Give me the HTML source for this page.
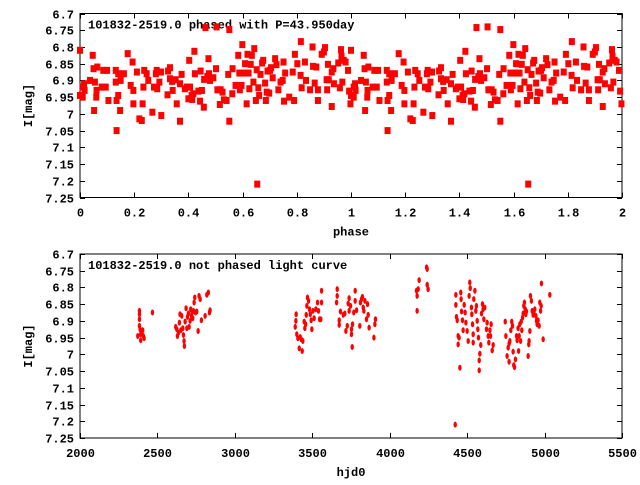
<!DOCTYPE html>
<html><head><meta charset="utf-8"><style>
html,body{margin:0;padding:0;background:#fff;}
svg text{font-family:"Liberation Mono",monospace;font-weight:bold;font-size:12px;fill:#000;}
</style></head><body>
<svg id="chart" width="640" height="480" viewBox="0 0 640 480" xmlns="http://www.w3.org/2000/svg">
<g id="top"></g>
<g id="bot"></g>
</svg>
<script>
// phased light curve data (phase in [0,1), plotted at phase and phase+1)
const phases=[0,0,0.01,0.015,0.01,0.017,0.037,0.047,0.05,0.052,0.055,0.06,0.061,0.064,0.08,0.086,0.095,0.1,0.105,0.132,0.132,0.135,0.135,0.141,0.141,0.148,0.15,0.162,0.176,0.187,0.194,0.197,0.197,0.21,0.219,0.228,0.231,0.234,0.237,0.246,0.252,0.267,0.273,0.28,0.283,0.285,0.293,0.299,0.3,0.323,0.325,0.332,0.332,0.34,0.342,0.353,0.357,0.369,0.369,0.375,0.387,0.394,0.4,0.403,0.406,0.412,0.414,0.418,0.422,0.424,0.437,0.443,0.445,0.45,0.457,0.458,0.463,0.47,0.474,0.476,0.48,0.492,0.502,0.504,0.507,0.516,0.519,0.526,0.531,0.541,0.547,0.551,0.551,0.562,0.563,0.574,0.584,0.588,0.59,0.596,0.599,0.605,0.609,0.615,0.618,0.622,0.625,0.63,0.634,0.64,0.643,0.649,0.652,0.654,0.658,0.661,0.666,0.672,0.676,0.683,0.686,0.689,0.692,0.698,0.701,0.705,0.711,0.72,0.725,0.732,0.74,0.748,0.751,0.753,0.757,0.772,0.785,0.79,0.793,0.802,0.814,0.815,0.818,0.834,0.83,0.849,0.858,0.86,0.866,0.872,0.878,0.878,0.892,0.9,0.904,0.91,0.912,0.915,0.918,0.929,0.929,0.935,0.937,0.953,0.959,0.963,0.965,0.968,0.973,0.98,0.989,0.993,0.998];
const phaseMags=[6.81,6.945,6.92,6.91,6.95,6.93,6.90,6.825,6.865,6.99,6.905,6.95,6.93,6.86,6.92,6.87,6.92,6.87,6.96,6.87,6.905,6.96,7.05,6.945,6.88,6.99,6.9,6.88,6.82,6.915,6.845,6.93,6.97,6.875,7.015,7.02,6.97,6.92,6.87,6.88,6.9,6.995,6.92,6.88,6.87,6.925,6.905,6.875,7.005,6.943,6.872,6.862,6.895,6.903,6.93,6.898,6.97,6.91,7.022,6.882,6.925,6.92,6.955,6.84,6.92,6.945,6.957,6.94,6.813,6.88,6.932,6.962,6.872,6.93,6.98,6.897,6.742,6.888,6.835,6.88,6.9,6.892,6.865,6.74,6.928,6.972,6.928,6.935,6.958,6.96,6.882,6.748,7.022,6.94,6.865,6.915,6.825,6.878,6.928,6.915,6.793,6.878,6.85,6.97,6.822,6.878,6.925,6.852,6.825,6.905,6.805,6.96,6.868,7.21,6.922,6.945,6.882,6.848,6.84,6.908,6.96,6.935,6.872,6.938,6.87,6.862,6.892,6.835,6.853,6.928,6.905,6.9,6.845,6.962,6.878,6.95,6.875,6.96,6.822,6.85,6.885,6.784,6.922,6.9,6.845,6.928,6.8,6.858,6.908,6.86,6.96,6.928,6.822,6.815,6.802,6.898,6.928,6.852,6.898,6.978,6.875,6.865,6.91,6.848,6.922,6.808,6.828,6.905,6.84,6.845,6.87,6.932,6.97];
// unphased light curve data
const hjd=[2373,2384,2384,2384,2384,2388,2392,2392,2399,2405,2409,2414,2468,2618,2625,2629,2636,2642,2646,2651,2657,2664,2668,2672,2674,2679,2685,2690,2694,2700,2705,2711,2715,2720,2724,2728,2733,2737,2741,2746,2754,2763,2769,2776,2784,2808,2819,2829,2836,2840,3390,3394,3396,3400,3407,3416,3422,3429,3435,3439,3448,3452,3457,3461,3465,3469,3476,3482,3487,3493,3497,3504,3512,3523,3534,3540,3547,3560,3560,3555,3657,3661,3661,3674,3674,3682,3700,3710,3717,3726,3732,3738,3738,3747,3753,3753,3758,3760,3768,3777,3777,3786,3807,3811,3818,3824,3829,3833,3840,3850,3857,3861,3867,3898,3904,3908,4173,4177,4177,4184,4190,4238,4242,4242,4248,4423,4427,4427,4431,4436,4442,4442,4448,4453,4459,4461,4464,4470,4474,4481,4487,4492,4500,4507,4513,4517,4520,4528,4530,4535,4539,4539,4543,4550,4556,4560,4565,4569,4573,4578,4578,4582,4588,4593,4599,4603,4608,4614,4625,4629,4636,4640,4647,4651,4655,4662,4668,4746,4750,4758,4765,4771,4776,4771,4782,4788,4793,4797,4801,4806,4812,4819,4823,4829,4832,4836,4840,4845,4849,4853,4858,4862,4866,4870,4875,4879,4883,4894,4898,4900,4905,4909,4915,4920,4926,4931,4937,4944,4948,4952,4958,4965,4969,4974,4978,4980,4991,5034];
const hjdMags=[6.945,6.87,6.88,6.895,6.915,6.925,6.94,6.958,6.932,6.928,6.945,6.952,6.875,6.918,6.925,6.945,6.935,6.905,6.88,6.928,6.885,6.922,6.942,6.96,6.975,6.902,6.862,6.922,6.888,6.878,6.918,6.9,6.865,6.885,6.875,6.892,6.87,6.845,6.83,6.875,6.872,6.93,6.825,6.835,6.898,6.885,6.822,6.815,6.875,6.868,6.918,6.9,6.88,6.94,6.952,6.982,6.948,6.955,6.99,6.96,6.902,6.922,6.91,6.882,6.855,6.83,6.84,6.865,6.88,6.898,6.925,6.87,6.892,6.865,6.845,6.87,6.895,6.845,6.81,6.895,6.845,6.805,6.825,6.898,6.912,6.872,6.882,6.878,6.93,6.915,6.848,6.832,6.87,6.855,6.925,6.94,6.978,6.91,6.875,6.81,6.84,6.868,6.915,6.845,6.835,6.828,6.86,6.87,6.84,6.895,6.85,6.882,6.92,6.95,6.91,6.895,6.81,6.825,6.87,6.805,6.778,6.74,6.745,6.792,6.805,7.21,6.822,6.852,6.888,6.898,6.945,6.97,6.95,7.04,6.815,6.835,6.872,6.898,6.928,6.852,6.875,6.905,6.93,6.96,6.825,6.785,6.802,6.86,6.88,6.91,6.94,6.965,6.835,6.81,6.87,6.855,6.9,6.925,6.95,7.018,7.048,6.998,6.972,6.878,6.85,6.865,6.895,6.86,6.925,6.905,6.945,6.965,6.928,6.945,6.91,6.988,6.972,6.902,6.945,7.005,6.98,6.968,6.96,7.022,6.928,6.902,6.915,6.992,7.032,7.038,7.015,6.945,6.958,6.922,6.99,6.945,6.91,6.96,6.902,6.928,6.89,6.878,6.855,6.845,6.865,6.88,6.872,7.005,6.97,6.96,6.93,6.825,6.84,6.87,6.882,6.875,6.865,6.885,6.9,6.91,6.898,6.915,6.845,6.87,6.855,6.788,6.955,6.822];
const yTicks=[6.7,6.75,6.8,6.85,6.9,6.95,7,7.05,7.1,7.15,7.2,7.25];
const phaseTicks=[0,0.2,0.4,0.6,0.8,1,1.2,1.4,1.6,1.8,2];
const hjdTicks=[2000,2500,3000,3500,4000,4500,5000,5500];

const NS="http://www.w3.org/2000/svg";
function mk(parent,tag,attrs){const e=document.createElementNS(NS,tag);for(const k in attrs)e.setAttribute(k,attrs[k]);parent.appendChild(e);return e;}
const L=80,R=622;
function fmt(v){return String(+v.toFixed(2));}
function panel(g,top,bottom,xmin,xmax,xticks,xlab,title,kind){
  const sx=v=>L+(v-xmin)/(xmax-xmin)*(R-L);
  const sy=v=>top+(v-6.7)/(7.25-6.7)*(bottom-top);
  const fr=mk(g,'rect',{x:L,y:top,width:R-L,height:bottom-top,fill:'none',stroke:'#000','stroke-width':1});
  
  
  yTicks.forEach(v=>{
    const y=Math.round(sy(v))+0.5;
    const t1=mk(g,'path',{d:`M${L} ${y}h5M${R} ${y}h-5`,stroke:'#000','stroke-width':1});
    
    
    const t=mk(g,'text',{x:74,y:y+4,'text-anchor':'end'});t.textContent=fmt(v);
    
    
  });
  xticks.forEach(v=>{
    const x=Math.round(sx(v))+0.5;
    const t1=mk(g,'path',{d:`M${x} ${bottom}v-5M${x} ${top}v5`,stroke:'#000','stroke-width':1});
    
    
    const t=mk(g,'text',{x:x,y:bottom+19,'text-anchor':'middle'});t.textContent=fmt(v);
    
    
  });
  const yl=mk(g,'text',{x:0,y:0,'text-anchor':'middle',transform:`translate(32 ${(top+bottom)/2}) rotate(-90)`});yl.textContent='I[mag]';
  
  
  const xl=mk(g,'text',{x:351,y:bottom+38,'text-anchor':'middle'});xl.textContent=xlab;
  
  
  const tt=mk(g,'text',{x:88,y:top+15});tt.textContent=title;
  
  
  return {sx,sy};
}
const gt=document.getElementById('top'),gb=document.getElementById('bot');
const a=panel(gt,13.5,197.5,0,2,phaseTicks,'phase','101832-2519.0 phased with P=43.950day');
[0,1].forEach(off=>{
  phases.forEach((p,i)=>{
    const r=mk(gt,'rect',{x:a.sx(p+off)-3,y:a.sy(phaseMags[i])-3.5,width:6,height:7,fill:'#f00'});
    
    
  });
});
const b=panel(gb,254,438,2000,5500,hjdTicks,'hjd0','101832-2519.0 not phased light curve');
hjd.forEach((h,i)=>{
  const e=mk(gb,'ellipse',{cx:b.sx(h),cy:b.sy(hjdMags[i]),rx:1.7,ry:3,fill:'#f00'});
  
  
});
</script>
</body></html>
